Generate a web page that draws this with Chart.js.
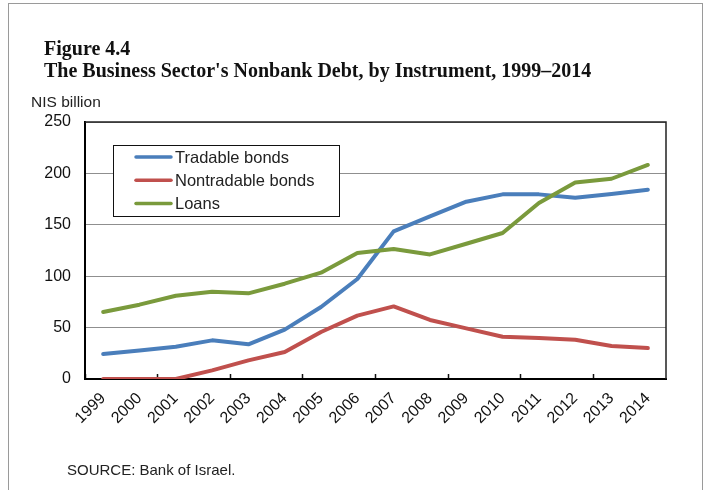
<!DOCTYPE html>
<html>
<head>
<meta charset="utf-8">
<title>Figure 4.4</title>
<script src="https://cdn.jsdelivr.net/npm/chart.js@4/dist/chart.umd.min.js"></script>
<style>
  html, body { margin: 0; padding: 0; background: #fff; overflow: hidden; }
  #wrap { position: relative; width: 704px; height: 490px; }
  #frame { position: absolute; left: 8px; top: 3px; width: 693px; height: 520px;
           border: 1px solid #9a9a9a; border-bottom: none; }
  #chart { position: absolute; left: 0; top: 0; }
  .fig { position: absolute; left: 44px; font-family: "Liberation Serif", "Times New Roman", serif;
         font-weight: bold; font-size: 20px; line-height: 1; color: #111; white-space: nowrap; }
  .note { position: absolute; font-family: "Liberation Sans", Arial, sans-serif; line-height: 1;
          color: #222; white-space: nowrap; }
</style>
</head>
<body>
<div id="wrap">
  <div id="frame"></div>
  <canvas id="chart" width="704" height="490"></canvas>
  <div class="fig" style="top:38px">Figure 4.4</div>
  <div class="fig" style="top:60px">The Business Sector's Nonbank Debt, by Instrument, 1999–2014</div>
  <div class="note" style="left:31px; top:94px; font-size:15.5px">NIS billion</div>
  <div class="note" style="left:67px; top:462px; font-size:15px">SOURCE: Bank of Israel.</div>
</div>
<script>
'use strict';

var years = ['1999', '2000', '2001', '2002', '2003', '2004', '2005', '2006',
             '2007', '2008', '2009', '2010', '2011', '2012', '2013', '2014'];
var tradable = [24.3, 27.8, 31.4, 37.6, 33.7, 48.0, 70.0, 97.3,
                143.6, 158.2, 172.5, 179.6, 179.6, 176.4, 180.0, 184.1];
var nontradable = [0, 0, 0, 8.4, 18.1, 26.2, 45.7, 61.6,
                   70.6, 57.4, 49.2, 41.1, 39.9, 38.2, 32.1, 30.1];
var loans = [65.2, 72.3, 81.0, 84.9, 83.3, 92.7, 103.4, 122.5,
             126.4, 121.2, 131.6, 142.0, 171.2, 191.2, 194.8, 208.2];
var yTicks = [0, 50, 100, 150, 200, 250];

var seriesNames = ['Tradable bonds', 'Nontradable bonds', 'Loans'];
var seriesColors = ['#4a7ebb', '#c0504d', '#7a9a3c'];

// top and right edges of the plot box
var plotFrame = {
  id: 'plotFrame',
  beforeDatasetsDraw: function(chart) {
    var a = chart.chartArea;
    var ctx = chart.ctx;
    ctx.save();
    ctx.strokeStyle = '#222';
    ctx.lineWidth = 1.5;
    ctx.beginPath();
    ctx.moveTo(a.left, a.top);
    ctx.lineTo(a.right, a.top);
    ctx.lineTo(a.right, a.bottom);
    ctx.stroke();
    ctx.restore();
  }
};

// boxed legend sitting inside the plot, top left
var boxLegend = {
  id: 'boxLegend',
  afterDraw: function(chart) {
    var ctx = chart.ctx;
    var x = 113, y = 145, w = 226, h = 71;
    ctx.save();
    ctx.fillStyle = '#fff';
    ctx.fillRect(x, y, w, h);
    ctx.strokeStyle = '#111';
    ctx.lineWidth = 1;
    ctx.strokeRect(x + 0.5, y + 0.5, w, h);
    ctx.font = '16.5px "Liberation Sans", Arial, sans-serif';
    ctx.textBaseline = 'middle';
    ctx.lineCap = 'round';
    chart.data.datasets.forEach(function(ds, i) {
      var ry = y + 12 + i * 23.3;
      ctx.strokeStyle = ds.borderColor;
      ctx.lineWidth = 3.5;
      ctx.beginPath();
      ctx.moveTo(136, ry);
      ctx.lineTo(171, ry);
      ctx.stroke();
      ctx.fillStyle = '#222';
      ctx.fillText(ds.label, 175, ry + 1);
    });
    ctx.restore();
  }
};

function makeSeries(i, data, order) {
  return {
    label: seriesNames[i],
    data: data,
    borderColor: seriesColors[i],
    backgroundColor: seriesColors[i],
    borderWidth: 4,
    borderJoinStyle: 'round',
    borderCapStyle: 'round',
    pointRadius: 0,
    tension: 0,
    order: order
  };
}

var ctx = document.getElementById('chart').getContext('2d');
var myChart = new Chart(ctx, {
  type: 'line',
  data: {
    labels: years,
    datasets: [
      makeSeries(0, tradable, 3),
      makeSeries(1, nontradable, 2),
      makeSeries(2, loans, 1)
    ]
  },
  plugins: [plotFrame, boxLegend],
  options: {
    responsive: false,
    animation: false,
    layout: { padding: { left: 0, top: 122, right: 38, bottom: 0 } },
    plugins: {
      legend: { display: false },
      title: { display: false },
      tooltip: { enabled: false }
    },
    scales: {
      x: {
        type: 'category',
        offset: true,
        afterFit: function(scale) { scale.height = 111; },
        grid: {
          display: true,
          offset: true,
          drawOnChartArea: false,
          drawTicks: true,
          tickLength: -5,
          tickWidth: 1.5,
          tickColor: function(c) {
            return (c.index !== undefined && c.index % 2 === 0) ? '#111' : 'rgba(0,0,0,0)';
          }
        },
        border: { display: true, color: '#000', width: 2 },
        ticks: {
          autoSkip: false,
          minRotation: 45,
          maxRotation: 45,
          padding: 15,
          color: '#111',
          font: { family: '"Liberation Sans", Arial, sans-serif', size: 16 }
        }
      },
      y: {
        min: 0,
        max: 250,
        afterFit: function(scale) { scale.width = 85; },
        afterBuildTicks: function(scale) {
          scale.ticks = yTicks.map(function(v) { return { value: v }; });
        },
        grid: {
          color: '#8f8f8f',
          lineWidth: 1,
          drawTicks: false
        },
        border: { display: true, color: '#000', width: 2 },
        ticks: {
          padding: 14,
          color: '#111',
          font: { family: '"Liberation Sans", Arial, sans-serif', size: 16 }
        }
      }
    }
  }
});
</script>
</body>
</html>
